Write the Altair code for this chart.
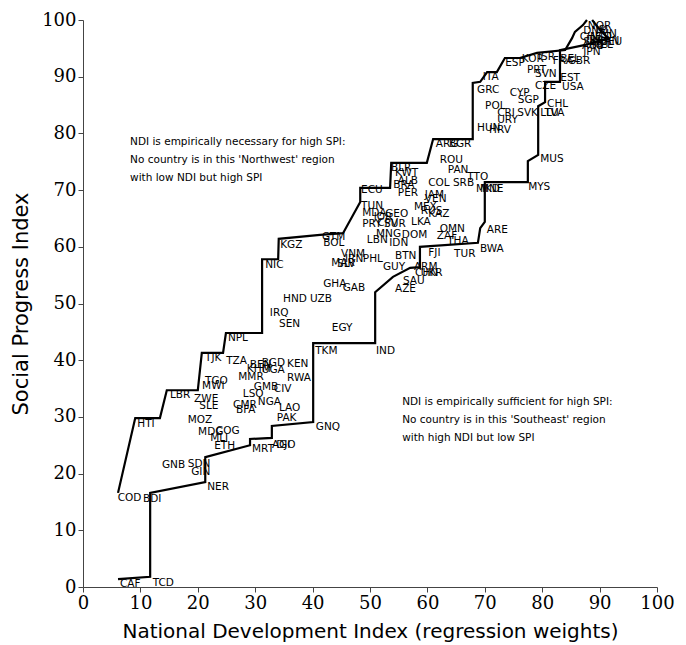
import altair as alt
import pandas as pd

# Country codes with NDI (x) and SPI (y)
codes = ["CAF","TCD","COD","BDI","NER","GNB","SDN","GIN","ETH","MLI","MDG","COG","MOZ","SLE","ZWE","LBR","HTI",
         "TGO","MWI","TJK","TZA","NPL","KEN","BGD","BEN","KHM","UGA","MMR","RWA","GMB","CIV","LSO","NGA","CMR",
         "BFA","LAO","PAK","GNQ","MRT","AGO","DJI","TKM","IND","EGY","SEN","IRQ","HND","UZB","GHA","GAB","NIC",
         "KGZ","BOL","GTM","VNM","IRN","MAR","SLV","PHL","BTN","GUY","SAU","AZE","ARM","CHN","UKR","FJI","TUR",
         "THA","ZAF","OMN","BWA","ARE","LKA","DOM","IDN","MNG","LBN","PRY","CPV","SUR","GEO","TUN","MDA","JOR",
         "MEX","KAZ","RUS","JAM","VEN","PER","ECU","BLR","KWT","ALB","BRA","ROU","PAN","TTO","COL","SRB","MKD",
         "MNE","MYS","MUS","ARG","BGR","HUN","HRV","GRC","ITA","POL","CRI","URY","CYP","SGP","SVK","CHL","LTU",
         "LVA","CZE","USA","EST","PRT","SVN","ESP","KOR","ISR","FRA","BEL","GBR","JPN","NOR","DNK","FIN","ISL",
         "CHE","NLD","SWE","CAN","AUS","NZL","DEU","IRL","AUT"]
ndi = [6.1,11.8,5.7,10.1,21.3,13.4,17.9,18.5,22.5,21.8,19.7,22.8,17.9,19.9,19.0,14.8,9.1,
       20.9,20.4,20.9,24.6,24.9,35.2,30.8,28.7,28.2,30.8,26.7,35.2,29.4,32.9,27.5,30.1,25.8,
       26.3,33.8,33.4,40.2,29.1,32.6,33.3,40.1,50.7,43.0,33.8,32.2,34.5,39.2,41.5,44.9,31.4,
       34.0,41.5,41.3,44.6,45.3,42.9,43.9,48.4,54.0,51.9,55.4,54.0,57.3,57.5,58.5,59.8,64.3,
       63.1,61.3,61.8,68.8,70.0,56.8,55.2,53.0,50.7,49.1,48.3,50.9,52.1,52.3,48.1,48.3,50.3,
       57.3,59.8,58.5,59.2,59.2,54.5,48.1,53.3,54.0,54.5,53.7,61.8,63.2,66.6,59.8,64.1,68.1,
       68.8,77.2,79.3,61.1,63.4,68.3,70.4,68.3,69.3,69.7,71.8,71.8,74.0,75.4,75.3,80.5,79.3,
       80.3,78.4,83.1,82.8,77.0,78.4,73.2,76.1,78.9,81.5,82.8,84.1,86.8,87.6,86.8,89.7,88.9,
       86.2,88.0,86.8,89.2,86.6,88.3,89.7,87.3,87.8]
spi = [1.6,1.8,16.8,16.6,18.7,22.6,22.8,21.3,25.9,27.3,28.4,28.6,30.5,33.0,34.2,34.9,29.8,
       37.4,36.5,41.4,40.9,45.0,40.4,40.6,40.2,39.5,39.3,38.1,37.9,36.3,36.0,35.1,33.7,33.2,
       32.3,32.6,30.9,29.3,25.4,26.1,26.1,42.7,42.7,46.7,47.4,49.4,51.9,51.9,54.5,53.8,57.8,
       61.4,61.7,62.8,59.8,58.9,58.2,58.0,58.9,59.4,57.5,55.0,53.6,57.5,56.4,56.4,60.0,59.8,
       62.1,63.0,64.2,60.7,64.0,65.4,63.1,61.7,63.3,62.3,65.1,65.3,65.1,66.8,68.3,67.0,66.3,
       68.1,66.8,67.4,70.2,69.5,70.5,71.1,75.0,74.1,72.7,72.0,76.4,74.6,73.4,72.3,72.3,71.3,
       71.3,71.6,76.5,79.2,79.2,82.0,81.7,88.7,91.0,85.9,84.7,83.4,88.2,86.9,84.7,86.2,84.7,
       84.7,89.4,89.2,90.8,92.2,91.5,93.5,94.2,94.5,93.8,94.2,93.8,95.4,100.0,99.1,98.6,99.3,
       98.1,98.1,97.2,97.4,96.5,96.6,97.2,97.5,96.8]

# Ceiling (upper) boundary
ceil_ndi = [6.1,9.1,13.4,14.6,20.0,20.7,24.4,24.9,31.2,31.2,34.0,34.1,41.3,45.3,48.3,48.3,53.5,53.7,
            59.9,61.0,67.9,67.9,69.2,70.4,72.1,73.5,76.1,79.1,84.0,85.2,85.7,87.1,87.8]
ceil_spi = [16.6,29.8,29.8,34.7,34.7,41.3,41.3,44.8,44.8,57.8,57.8,61.4,62.1,62.4,67.9,70.4,70.4,74.8,
            74.8,79.0,79.0,88.9,89.1,90.8,90.8,93.3,93.3,94.2,94.7,96.8,97.9,99.1,100.0]
# Floor (lower) boundary
floor_ndi = [88.7,90.1,91.5,87.5,83.1,83.1,80.5,80.5,79.3,79.3,77.5,77.5,70.0,70.0,69.2,68.8,58.7,58.7,
             57.0,54.0,50.9,50.9,40.1,40.1,32.9,32.9,29.1,29.1,21.3,21.3,11.7,11.7,6.1]
floor_spi = [100.0,98.2,96.8,95.6,94.7,89.1,89.1,85.5,84.8,76.2,75.1,71.4,71.4,64.4,63.3,60.7,60.0,56.4,
             56.3,54.7,52.0,43.0,43.0,29.1,28.4,26.3,26.1,25.0,22.9,18.5,16.6,1.8,1.4]

note_lines = ["NDI is empirically necessary for high SPI:",
              "No country is in this 'Northwest' region",
              "with low NDI but high SPI",
              "NDI is empirically sufficient for high SPI:",
              "No country is in this 'Southeast' region",
              "with high NDI but low SPI"]
note_x = [8.2, 8.2, 8.2, 55.6, 55.6, 55.6]
note_y = [78.5, 75.3, 72.1, 32.6, 29.5, 26.3]

countries = pd.DataFrame({"code": codes, "ndi": ndi, "spi": spi})
lines = pd.concat([
    pd.DataFrame({"ndi": ceil_ndi, "spi": ceil_spi, "line": "ceiling", "ord": range(len(ceil_ndi))}),
    pd.DataFrame({"ndi": floor_ndi, "spi": floor_spi, "line": "floor", "ord": range(len(floor_ndi))}),
])
notes = pd.DataFrame({"text": note_lines, "ndi": note_x, "spi": note_y})

xscale = alt.Scale(domain=[0, 100], nice=False)
yscale = alt.Scale(domain=[0, 100], nice=False)
xaxis = alt.Axis(title="National Development Index (regression weights)", values=list(range(0, 101, 10)),
                 grid=False, labelFont="DejaVu Serif", labelFontSize=18, labelColor="black",
                 titleFont="DejaVu Sans", titleFontSize=20, titleFontWeight="normal", titleColor="black",
                 domainColor="#444", tickColor="#444", tickSize=5, labelPadding=2, titlePadding=9,
                 labelFlush=False, labelOverlap=False)
yaxis = alt.Axis(title="Social Progress Index", values=list(range(0, 101, 10)),
                 grid=False, labelFont="DejaVu Serif", labelFontSize=18, labelColor="black",
                 titleFont="DejaVu Sans", titleFontSize=21, titleFontWeight="normal", titleColor="black",
                 domainColor="#444", tickColor="#444", tickSize=5, labelPadding=2, titlePadding=10,
                 labelFlush=False, labelOverlap=False)

base_lines = alt.Chart(lines).mark_line(color="black", strokeWidth=2.2).encode(
    x=alt.X("ndi:Q", scale=xscale, axis=xaxis),
    y=alt.Y("spi:Q", scale=yscale, axis=yaxis),
    detail="line:N",
    order="ord:Q",
)

labels = alt.Chart(countries).mark_text(
    font="DejaVu Sans", fontSize=10.5, align="left", baseline="middle", dx=2, dy=6, color="black"
).encode(x=alt.X("ndi:Q", scale=xscale), y=alt.Y("spi:Q", scale=yscale), text="code:N")

note_text = alt.Chart(notes).mark_text(
    font="DejaVu Sans", fontSize=10.5, align="left", baseline="middle", color="black"
).encode(x=alt.X("ndi:Q", scale=xscale), y=alt.Y("spi:Q", scale=yscale), text="text:N")

chart = alt.layer(base_lines, labels, note_text).properties(
    width=574, height=567,
    autosize=alt.AutoSizeParams(type="none"),
    padding={"left": 83, "top": 20, "right": 29, "bottom": 58},
).configure_view(stroke=None)

chart.save("out.html", embed_options={"renderer": "svg", "actions": False})
